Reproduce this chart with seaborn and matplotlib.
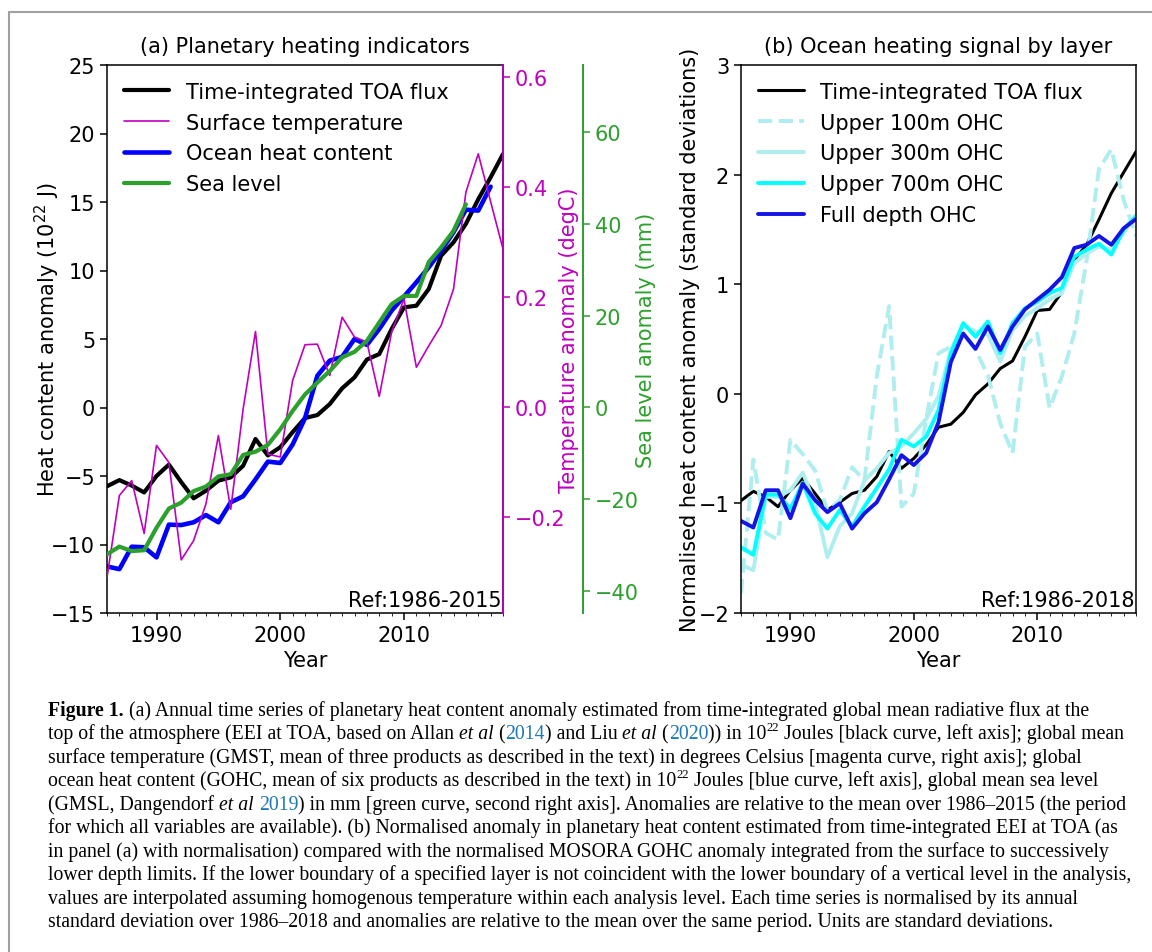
import matplotlib
matplotlib.use('Agg')
import matplotlib.pyplot as plt
import seaborn as sns
from matplotlib.lines import Line2D
from matplotlib.ticker import MultipleLocator

# ---- data ----
years = list(range(1986, 2019))

# panel (a)
toa_a = [-5.75, -5.3, -5.7, -6.2, -5.0, -4.17, -5.45, -6.63, -6.07, -5.34, -5.1,
         -4.25, -2.3, -3.5, -2.9, -1.8, -0.77, -0.55, 0.25, 1.4, 2.2, 3.5, 3.9,
         5.73, 7.31, 7.43, 8.65, 11.08, 12.06, 13.4, 15.2, 16.8, 18.5]
temp_a = [-0.309, -0.16, -0.133, -0.229, -0.069, -0.10, -0.277, -0.242, -0.175,
          -0.051, -0.185, -0.003, 0.138, -0.085, -0.09, 0.049, 0.114, 0.115,
          0.058, 0.164, 0.128, 0.119, 0.020, 0.137, 0.197, 0.073, 0.112, 0.149,
          0.215, 0.391, 0.461, 0.374, 0.288]
ohc_years = list(range(1986, 2018))
ohc_a = [-11.6, -11.8, -10.16, -10.2, -10.94, -8.55, -8.58, -8.38, -7.85, -8.38,
         -6.92, -6.48, -5.25, -3.95, -4.05, -2.7, -0.78, 2.32, 3.42, 3.7, 5.0,
         4.57, 5.73, 7.07, 8.1, 9.14, 10.23, 11.45, 12.79, 14.44, 14.37, 16.12]
sl_years = list(range(1986, 2016))
sl_a = [-32.1, -30.4, -31.4, -31.2, -26.3, -22.1, -20.8, -18.3, -17.3, -15.1,
        -14.6, -10.4, -9.7, -8.2, -4.8, -0.8, 2.8, 5.4, 7.9, 10.9, 12.1, 14.5,
        18.5, 22.5, 24.3, 24.3, 31.7, 34.9, 38.5, 44.3]

# panel (b)
toa_b = [-0.975, -0.89, -0.94, -1.03, -0.88, -0.77, -0.91, -1.06, -0.99, -0.91,
         -0.88, -0.755, -0.527, -0.68, -0.59, -0.466, -0.305, -0.277, -0.17,
         -0.01, 0.09, 0.23, 0.30, 0.52, 0.76, 0.77, 0.93, 1.22, 1.36, 1.59, 1.83,
         2.02, 2.21]
ohc100 = [-1.82, -0.60, -1.27, -1.33, -0.42, -0.55, -0.70, -1.07, -0.97, -0.67,
          -0.79, 0.16, 0.80, -1.03, -0.91, -0.23, 0.37, 0.43, 0.55, 0.40, 0.17,
          -0.27, -0.54, 0.43, 0.55, -0.13, 0.16, 0.55, 1.22, 2.05, 2.23, 1.77, 1.44]
ohc300 = [-1.56, -1.61, -0.94, -0.94, -0.88, -0.72, -1.0, -1.49, -1.21, -1.09,
          -0.79, -0.68, -0.54, -0.48, -0.36, -0.23, -0.02, 0.40, 0.63, 0.57, 0.54,
          0.295, 0.58, 0.71, 0.78, 0.86, 0.92, 1.19, 1.28, 1.345, 1.315, 1.47, 1.63]
ohc700 = [-1.40, -1.47, -0.92, -0.92, -1.05, -0.815, -1.09, -1.23, -1.06, -1.21,
          -1.03, -0.86, -0.69, -0.42, -0.48, -0.39, -0.15, 0.37, 0.645, 0.52,
          0.66, 0.37, 0.645, 0.78, 0.84, 0.92, 0.965, 1.25, 1.315, 1.37, 1.27,
          1.50, 1.62]
ohc_full = [-1.16, -1.22, -0.88, -0.88, -1.135, -0.82, -0.97, -1.08, -1.0, -1.23,
            -1.09, -0.99, -0.78, -0.56, -0.65, -0.54, -0.26, 0.29, 0.55, 0.41,
            0.615, 0.40, 0.615, 0.77, 0.86, 0.95, 1.065, 1.33, 1.36, 1.44, 1.36,
            1.51, 1.595]

MAG = '#bf00bf'
GRN = '#2ca02c'
FS = 15

sns.set_style('ticks', rc={'axes.edgecolor': 'black', 'text.color': 'black',
                           'xtick.color': 'black', 'ytick.color': 'black',
                           'axes.labelcolor': 'black'})
plt.rcParams['font.family'] = ['DejaVu Sans']
plt.rcParams['axes.linewidth'] = 1.1
plt.rcParams['xtick.major.size'] = 5
plt.rcParams['ytick.major.size'] = 5
plt.rcParams['xtick.major.width'] = 1.1
plt.rcParams['ytick.major.width'] = 1.1
plt.rcParams['xtick.minor.size'] = 2.5
plt.rcParams['axes.titlepad'] = 9

W, H = 1152, 953
fig = plt.figure(figsize=(W / 100, H / 100), dpi=100)


def px_rect(l, t, r, b):
    return [l / W, 1 - b / H, (r - l) / W, (b - t) / H]


# ---------------- panel (a) ----------------
ax1 = fig.add_axes(px_rect(107, 66, 503, 614))
sns.lineplot(x=years, y=toa_a, ax=ax1, color='black', lw=3, legend=False)
sns.lineplot(x=ohc_years, y=ohc_a, ax=ax1, color='#0000ff', lw=3.3, legend=False)
ax1.set_xlim(1986, 2018)
ax1.set_ylim(-15, 25)
ax1.set_yticks(range(-15, 26, 5))
ax1.xaxis.set_major_locator(MultipleLocator(10))
ax1.xaxis.set_minor_locator(MultipleLocator(1))
ax1.tick_params(labelsize=FS)
ax1.set_xlabel('Year', fontsize=FS)
ax1.set_ylabel('Heat content anomaly (10$^{22}$ J)', fontsize=FS, labelpad=-8)
ax1.set_title('(a) Planetary heating indicators', fontsize=FS)

ax1t = ax1.twinx()
sns.lineplot(x=years, y=temp_a, ax=ax1t, color=MAG, lw=1.2, legend=False)
ax1t.set_ylim(-0.3736, 0.6224)
ax1t.set_yticks([-0.2, 0.0, 0.2, 0.4, 0.6])
ax1t.set_yticklabels(['\u22120.2', '0.0', '0.2', '0.4', '0.6'])
ax1t.tick_params(axis='y', colors=MAG, labelsize=FS)
ax1t.spines['right'].set_color(MAG)
ax1t.spines['right'].set_linewidth(1.3)
for s in ['left', 'top', 'bottom']:
    ax1t.spines[s].set_visible(False)
ax1t.set_ylabel('Temperature anomaly (degC)', color=MAG, fontsize=FS,
                labelpad=-4.5)

ax1g = ax1.twinx()
sns.lineplot(x=sl_years, y=sl_a, ax=ax1g, color=GRN, lw=3, legend=False)
ax1g.set_ylim(-44.9, 74.7)
ax1g.set_yticks(range(-40, 61, 20))
ax1g.spines['right'].set_position(('axes', (583 - 107) / (503 - 107)))
ax1g.spines['right'].set_color(GRN)
ax1g.spines['right'].set_linewidth(1.4)
for s in ['left', 'top', 'bottom']:
    ax1g.spines[s].set_visible(False)
ax1g.tick_params(axis='y', colors=GRN, labelsize=FS)
ax1g.set_ylabel('Sea level anomaly (mm)', color=GRN, fontsize=FS, labelpad=-2)

handles_a = [Line2D([], [], color='black', lw=3),
             Line2D([], [], color=MAG, lw=1.2),
             Line2D([], [], color='#0000ff', lw=3.3),
             Line2D([], [], color=GRN, lw=3)]
labels_a = ['Time-integrated TOA flux', 'Surface temperature',
            'Ocean heat content', 'Sea level']
ax1g.legend(handles_a, labels_a, loc='upper left', frameon=False, fontsize=FS,
            handlelength=2.2, labelspacing=0.52, borderaxespad=0.4)
ax1g.text(0.997, 0.006, 'Ref:1986-2015', transform=ax1.transAxes, ha='right',
          va='bottom', fontsize=FS)

# ---------------- panel (b) ----------------
ax2 = fig.add_axes(px_rect(741, 66, 1136, 614))
sns.lineplot(x=years, y=toa_b, ax=ax2, color='black', lw=2.2,
             label='Time-integrated TOA flux')
sns.lineplot(x=years, y=ohc100, ax=ax2, color='#afeeee', lw=2.8,
             linestyle='--', label='Upper 100m OHC')
sns.lineplot(x=years, y=ohc300, ax=ax2, color='#afeeee', lw=2.8,
             label='Upper 300m OHC')
sns.lineplot(x=years, y=ohc700, ax=ax2, color='#00ffff', lw=2.8,
             label='Upper 700m OHC')
sns.lineplot(x=years, y=ohc_full, ax=ax2, color='#1414e6', lw=2.8,
             label='Full depth OHC')
ax2.set_xlim(1986, 2018)
ax2.set_ylim(-2, 3)
ax2.set_yticks(range(-2, 4))
ax2.xaxis.set_major_locator(MultipleLocator(10))
ax2.xaxis.set_minor_locator(MultipleLocator(1))
ax2.tick_params(labelsize=FS)
ax2.set_xlabel('Year', fontsize=FS)
ax2.set_ylabel('Normalised heat content anomaly (standard deviations)',
               fontsize=FS, labelpad=-1)
ax2.set_title('(b) Ocean heating signal by layer', fontsize=FS)
ax2.legend(loc='upper left', frameon=False, fontsize=FS, handlelength=2.2,
           labelspacing=0.52, borderaxespad=0.4)
ax2.text(0.997, 0.006, 'Ref:1986-2018', transform=ax2.transAxes, ha='right',
         va='bottom', fontsize=FS)

# ---------------- page frame ----------------
fig.add_artist(Line2D([9 / W, 1], [1 - 13 / H, 1 - 13 / H], color='#a0a0a0', lw=1.5))
fig.add_artist(Line2D([9 / W, 9 / W], [0, 1 - 13 / H], color='#a0a0a0', lw=1.5))

# ---------------- caption ----------------
CAP_FONT = 'Liberation Serif'
CAP_SIZE = 14.2
CITE = '#1f77b4'
renderer = fig.canvas.get_renderer()


def text_width(s, kw):
    t1 = fig.text(0, 0, s + '|', **kw)
    t2 = fig.text(0, 0, '|', **kw)
    w = t1.get_window_extent(renderer).width - t2.get_window_extent(renderer).width
    t1.remove()
    t2.remove()
    return w


def rich_line(x, y, runs):
    for txt, extra in runs:
        kw = dict(family=CAP_FONT, size=CAP_SIZE, color='black')
        kw.update(extra)
        dy = kw.pop('dy', 0)
        fig.text(x / W, 1 - (y - dy) / H, txt, ha='left', va='baseline', **kw)
        x += text_width(txt, kw)


SUP = {'size': CAP_SIZE * 0.65, 'dy': 8}
IT = {'style': 'italic'}
BL = {'color': CITE}
caption = [
    [('Figure 1.', {'weight': 'bold'}),
     (' (a) Annual time series of planetary heat content anomaly estimated from '
      'time-integrated global mean radiative flux at the', {})],
    [('top of the atmosphere (EEI at TOA, based on Allan ', {}), ('et al', IT),
     (' (', {}), ('2014', BL), (') and Liu ', {}), ('et al', IT), (' (', {}),
     ('2020', BL), (')) in 10', {}), ('22', SUP),
     (' Joules [black curve, left axis]; global mean', {})],
    [('surface temperature (GMST, mean of three products as described in the text) '
      'in degrees Celsius [magenta curve, right axis]; global', {})],
    [('ocean heat content (GOHC, mean of six products as described in the text) in 10', {}),
     ('22', SUP), (' Joules [blue curve, left axis], global mean sea level', {})],
    [('(GMSL, Dangendorf ', {}), ('et al', IT), (' ', {}), ('2019', BL),
     (') in mm [green curve, second right axis]. Anomalies are relative to the mean '
      'over 1986\u20132015 (the period', {})],
    [('for which all variables are available). (b) Normalised anomaly in planetary '
      'heat content estimated from time-integrated EEI at TOA (as', {})],
    [('in panel (a) with normalisation) compared with the normalised MOSORA GOHC '
      'anomaly integrated from the surface to successively', {})],
    [('lower depth limits. If the lower boundary of a specified layer is not coincident '
      'with the lower boundary of a vertical level in the analysis,', {})],
    [('values are interpolated assuming homogenous temperature within each analysis '
      'level. Each time series is normalised by its annual', {})],
    [('standard deviation over 1986\u20132018 and anomalies are relative to the mean '
      'over the same period. Units are standard deviations.', {})],
]
for i, runs in enumerate(caption):
    rich_line(48, 716 + 23.5 * i, runs)

fig.savefig('out.png', dpi=100)
